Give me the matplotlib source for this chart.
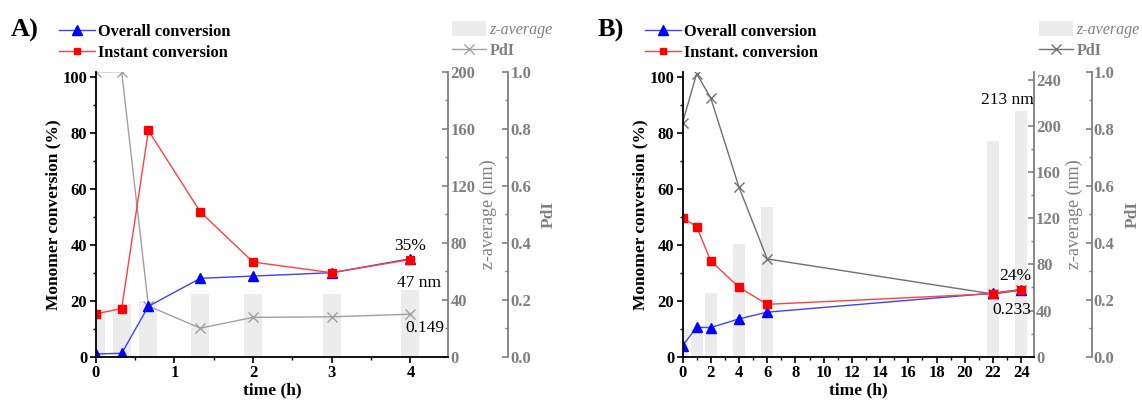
import matplotlib
matplotlib.use("Agg")
import matplotlib.pyplot as plt
from matplotlib.ticker import MultipleLocator
from matplotlib.lines import Line2D
from matplotlib.patches import Patch

plt.rcParams['font.family'] = ['Liberation Serif', 'DejaVu Serif']

# ---------------- data ----------------
time_a = [0, 0.33, 0.67, 1.33, 2, 3, 4]
overall_a = [1.0, 1.2, 18.0, 28.0, 28.8, 30.0, 35.0]
instant_a = [15.3, 17.2, 80.8, 51.7, 33.8, 30.0, 34.7]
pdi_a = [1.0, 1.0, 0.178, 0.10, 0.138, 0.140, 0.149]
zavg_a = [33.5, 37, 39, 44, 44, 44, 47]

time_b = [0, 1, 2, 4, 6, 22, 24]
overall_b = [3.9, 10.5, 10.4, 13.5, 15.9, 22.7, 24.0]
instant_b = [49.5, 46.5, 34.2, 24.8, 18.7, 22.5, 24.0]
pdi_b = [0.82, 0.993, 0.908, 0.595, 0.343, 0.22, 0.233]
zavg_b = [24, 25, 55, 97.5, 130, 187, 213]

xticks_a = [0, 1, 2, 3, 4]
xticks_b = list(range(0, 25, 2))
yticks_main = [0, 20, 40, 60, 80, 100]
zticks_a = [0, 40, 80, 120, 160, 200]
zticks_b = [0, 40, 80, 120, 160, 200, 240]
pdi_ticks = [0.0, 0.2, 0.4, 0.6, 0.8, 1.0]

legend_main_a = ['Overall conversion', 'Instant conversion']
legend_main_b = ['Overall conversion', 'Instant. conversion']
legend_side = ['z-average', 'PdI']

GRAY = '#7f7f7f'
BAR = '#ececec'

fig = plt.figure(figsize=(11.42, 4.01), dpi=100)
W, H = 1142.0, 401.0


def panel(left_px, right_px, x, overall, instant, pdi, zavg, bar_w, xlim, xticks,
          xminor, zlim, zticks, pdi_color, main_labels, pdi_off, panel_label,
          label_px, leg_left_px, leg_right_px):
    bottom_px, top_px = 356.7, 71.7
    rect = [left_px / W, (H - bottom_px) / H, (right_px - left_px) / W, (bottom_px - top_px) / H]
    ax = fig.add_axes(rect)
    axz = ax.twinx()
    axp = ax.twinx()
    axz.set_zorder(1)
    axp.set_zorder(2)
    ax.set_zorder(3)
    ax.patch.set_visible(False)
    axp.patch.set_visible(False)

    # bars
    axz.bar(x, zavg, width=bar_w, color=BAR, zorder=1)
    axz.set_ylim(*zlim)
    axz.set_yticks(zticks)
    axz.yaxis.set_minor_locator(MultipleLocator(20))
    # pdi
    axp.plot(x, pdi, color=pdi_color, lw=1.0, marker='x', ms=7, mew=1.0)
    axp.set_ylim(0, 1.0)
    axp.set_yticks(pdi_ticks)
    axp.yaxis.set_minor_locator(MultipleLocator(0.1))
    axp.spines['right'].set_position(('axes', pdi_off))
    # main
    ax.plot(x, overall, color='#4040ff', lw=1.0, marker='^', ms=6.5,
            mfc='#0000ff', mec='#0000ff')
    ax.plot(x, instant, color='#ff4040', lw=1.0, marker='s', ms=5.5,
            mfc='#ff0000', mec='#ff0000')
    ax.set_xlim(*xlim)
    ax.set_ylim(0, 101.8)
    ax.set_xticks(xticks)
    ax.set_yticks(yticks_main)
    ax.xaxis.set_minor_locator(MultipleLocator(xminor))
    ax.yaxis.set_minor_locator(MultipleLocator(10))

    for a in (ax, axz, axp):
        a.spines['top'].set_visible(False)
    ax.spines['right'].set_visible(False)
    for a in (axz, axp):
        a.spines['left'].set_visible(False)
        a.spines['bottom'].set_visible(False)
        a.spines['right'].set_color(GRAY)
        a.spines['right'].set_linewidth(1.3)
    ax.spines['left'].set_linewidth(1.3)
    ax.spines['bottom'].set_linewidth(1.3)

    ax.tick_params(axis='both', which='major', direction='out', length=4.5, width=1.2,
                   labelsize=12, pad=1.5)
    ax.tick_params(axis='both', which='minor', direction='out', length=2.5, width=1.0)
    for a in (axz, axp):
        a.tick_params(axis='y', which='major', direction='in', length=4.5, width=1.2,
                      colors=GRAY, labelsize=12, pad=1.5)
        a.tick_params(axis='y', which='minor', direction='in', length=2.5, width=1.0,
                      colors=GRAY)
    for a in (ax, axz, axp):
        for lab in a.get_xticklabels() + a.get_yticklabels():
            lab.set_fontweight('bold')

    ax.set_ylabel('Monomer conversion (%)', fontsize=12.5, fontweight='bold', labelpad=1)
    ax.set_xlabel('time (h)', fontsize=12.5, fontweight='bold', labelpad=1)
    axz.set_ylabel('z-average (nm)', fontsize=13, color=GRAY, labelpad=3)
    axp.set_ylabel('PdI', fontsize=12.5, color=GRAY, fontweight='bold', labelpad=7)

    fig.text(label_px / W, 1 - 30 / H, panel_label, fontsize=19, fontweight='bold',
             va='center', ha='left')

    h_main = [Line2D([], [], color='#4040ff', lw=1.0, marker='^', ms=6.5, mfc='#0000ff', mec='#0000ff'),
              Line2D([], [], color='#ff4040', lw=1.0, marker='s', ms=5, mfc='#ff0000', mec='#ff0000')]
    fig.legend(h_main, main_labels, loc='upper left',
               bbox_to_anchor=(leg_left_px / W, 1 - 24 / H), frameon=False,
               prop={'weight': 'bold', 'size': 11.8}, handlelength=2.2,
               handletextpad=0.2, labelspacing=0.28, borderpad=0, borderaxespad=0)
    h_side = [Patch(facecolor=BAR, edgecolor='none'),
              Line2D([], [], color=pdi_color, lw=1.0, marker='x', ms=6.5)]
    lg2 = fig.legend(h_side, legend_side, loc='upper left',
                     bbox_to_anchor=(leg_right_px / W, 1 - 21 / H), frameon=False,
                     prop={'size': 11.5}, handlelength=2.1, handleheight=1.1,
                     handletextpad=0.25, labelspacing=0.25, borderpad=0, borderaxespad=0)
    for t in lg2.get_texts():
        t.set_color(GRAY)
    lg2.get_texts()[0].set_style('italic')
    lg2.get_texts()[1].set_fontweight('bold')
    return ax, axz, axp


axA, azA, apA = panel(95.7, 448.2, time_a, overall_a, instant_a, pdi_a, zavg_a, 0.23,
                      (0, 4.48), xticks_a, 0.5, (0, 200), zticks_a, '#a0a0a0',
                      legend_main_a, 1.17, 'A)', 11, 59, 452)
axA.text(time_a[-1], 39.5, '35%', fontsize=12.5, ha='center', va='center')
axA.text(4.11, 26.4, '47 nm', fontsize=12.5, ha='center', va='center')
axA.text(4.18, 10.4, '0.149', fontsize=12.5, ha='center', va='center')

axB, azB, apB = panel(682.5, 1034.0, time_b, overall_b, instant_b, pdi_b, zavg_b, 0.85,
                      (0, 24.9), xticks_b, 1, (0, 247), zticks_b, '#707070',
                      legend_main_b, 1.164, 'B)', 598, 645, 1039)
axB.text(23.6, 28.8, '24%', fontsize=12.5, ha='center', va='center')
axB.text(23.3, 16.7, '0.233', fontsize=12.5, ha='center', va='center')
axB.text(23.0, 91.7, '213 nm', fontsize=12.5, ha='center', va='center')

fig.savefig('out.png', dpi=100)
